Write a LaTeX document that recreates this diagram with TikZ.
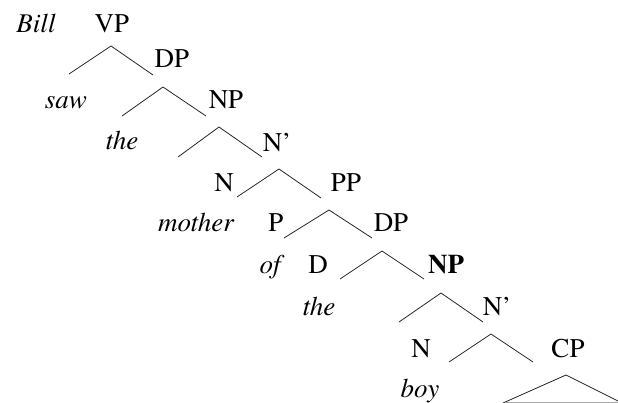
\documentclass[tikz,border=0pt]{standalone}
\usepackage{fontspec}
\newfontfamily\treefont{TeX Gyre Termes}
\newcommand\treesize{\fontsize{27}{31}\selectfont}
\begin{document}
\begin{tikzpicture}[x=1pt,y=-1pt,
  every node/.style={anchor=base,inner sep=0pt},
  branch/.style={draw=black!85,line width=0.8pt},
  base/.style={draw=black!35,line width=0.6pt}]
\useasboundingbox (0,0) rectangle (618,403);

% labels, row by row
\node (bill)    at (36,33)  {\treefont\treesize\itshape Bill};
\node (vp)      at (112,33) {\treefont\treesize VP};
\node (dp1)     at (172,68) {\treefont\treesize DP};
\node (saw)     at (66,109) {\treefont\treesize\itshape saw};
\node (np1)     at (226,109){\treefont\treesize NP};
\node (the1)    at (122,150){\treefont\treesize\itshape the};
\node (nbar1)   at (277,152){\treefont\treesize N’};
\node (n1)      at (224,192){\treefont\treesize N};
\node (pp)      at (346,192){\treefont\treesize PP};
\node (mother)  at (196,232){\treefont\treesize\itshape mother};
\node (p)       at (276,232){\treefont\treesize P};
\node (dp2)     at (391,232){\treefont\treesize DP};
\node (of)      at (270,273){\treefont\treesize\itshape of};
\node (d)       at (318,273){\treefont\treesize D};
\node (np2)     at (446,273){\treefont\treesize\bfseries NP};
\node (the2)    at (319,315){\treefont\treesize\itshape the};
\node (nbar2)   at (497,315){\treefont\treesize N’};
\node (n2)      at (421,357){\treefont\treesize N};
\node (cp)      at (568,357){\treefont\treesize CP};
\node (boy)     at (420,397){\treefont\treesize\itshape boy};

% branching points: apex, left foot, right foot
\coordinate (a1) at (111,46);  \coordinate (l1) at (69,74);   \coordinate (r1) at (153,75);
\coordinate (a2) at (163,87);  \coordinate (l2) at (122,116); \coordinate (r2) at (206,116);
\coordinate (a3) at (219,127); \coordinate (l3) at (178,157); \coordinate (r3) at (262,157);
\coordinate (a4) at (279,169); \coordinate (l4) at (237,197); \coordinate (r4) at (321,198);
\coordinate (a5) at (329,210); \coordinate (l5) at (284,238); \coordinate (r5) at (372,238);
\coordinate (a6) at (382,251); \coordinate (l6) at (340,279); \coordinate (r6) at (424,279);
\coordinate (a7) at (441,293); \coordinate (l7) at (399,322); \coordinate (r7) at (483,322);
\coordinate (a8) at (491,334); \coordinate (l8) at (449,362); \coordinate (r8) at (533,362);
\coordinate (ta) at (566,375); \coordinate (tl) at (503,403); \coordinate (tr) at (618,401);
\coordinate (bl) at (505,402); \coordinate (br) at (618,402);

\foreach \i in {1,...,8}
  \draw[branch] (l\i) -- (a\i) -- (r\i);

% triangle under CP
\draw[branch] (tl) -- (ta) -- (tr);
\draw[base] (bl) -- (br);
\end{tikzpicture}
\end{document}
